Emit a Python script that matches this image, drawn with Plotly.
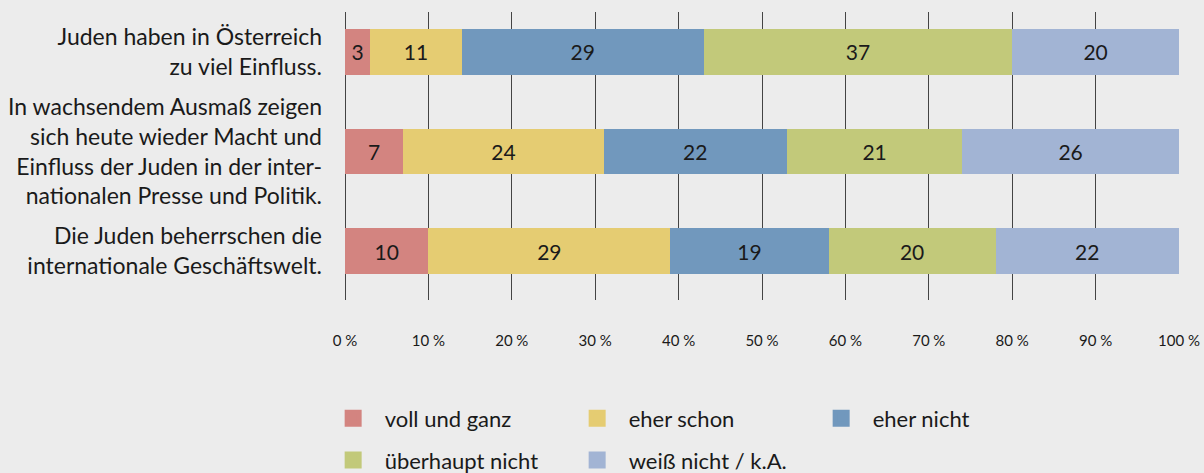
import plotly.graph_objects as go

statements = [
    "Juden haben in Österreich<br>zu viel Einfluss.",
    "In wachsendem Ausmaß zeigen<br>sich heute wieder Macht und<br>Einfluss der Juden in der inter-<br>nationalen Presse und Politik.",
    "Die Juden beherrschen die<br>internationale Geschäftswelt.",
]
answers = ["voll und ganz", "eher schon", "eher nicht", "überhaupt nicht", "weiß nicht / k.A."]
voll_und_ganz = [3, 7, 10]
eher_schon = [11, 24, 29]
eher_nicht = [29, 22, 19]
ueberhaupt_nicht = [37, 21, 20]
weiss_nicht = [20, 26, 22]
colors = ["#d38480", "#e5cc72", "#7198bd", "#c2c97a", "#a2b4d4"]

series = [voll_und_ganz, eher_schon, eher_nicht, ueberhaupt_nicht, weiss_nicht]
font = "Lato"

fig = go.Figure()
for i, (name, vals) in enumerate(zip(answers, series)):
    fig.add_trace(go.Bar(
        y=statements, x=vals, name=name, orientation="h",
        marker=dict(color=colors[i], line=dict(width=0)),
        text=vals, textposition="inside", insidetextanchor="middle",
        textfont=dict(size=21, color="#1a1a1a", family=font),
        width=0.46, showlegend=False, hoverinfo="skip",
    ))
# legend-only entries (thick outline gives a bigger swatch)
for i, name in enumerate(answers):
    fig.add_trace(go.Bar(
        y=[None], x=[None], name=name, orientation="h",
        marker=dict(color=colors[i], line=dict(color=colors[i], width=5)),
        legend="legend" if i < 3 else "legend2",
    ))

leg = dict(
    orientation="h", xref="paper", x=-0.028, xanchor="left",
    yref="paper", yanchor="middle", traceorder="normal",
    itemwidth=53, entrywidth=176, font=dict(size=22),
    bgcolor="rgba(0,0,0,0)", borderwidth=0,
)

fig.update_layout(
    barmode="stack",
    width=1204, height=473,
    paper_bgcolor="#ececec", plot_bgcolor="#ececec",
    margin=dict(l=345, r=25, t=12, b=173, autoexpand=False),
    font=dict(family=font, size=21, color="#1a1a1a"),
    xaxis=dict(
        range=[0, 100], dtick=10, ticksuffix="\u202f%",
        showgrid=True, gridcolor="#444", gridwidth=1,
        zeroline=True, zerolinecolor="#444", zerolinewidth=1,
        tickfont=dict(size=15), ticklabelstandoff=30, fixedrange=True,
    ),
    yaxis=dict(
        categoryorder="array", categoryarray=statements,
        range=[2.49, -0.40], showgrid=False, zeroline=False,
        ticklabelstandoff=22, tickfont=dict(size=23), fixedrange=True,
    ),
    legend=dict(leg, y=-0.411),
    legend2=dict(leg, y=-0.556),
)

fig.write_html("out.html", config={"displayModeBar": False},
               post_script="document.body.style.margin='0px';")
